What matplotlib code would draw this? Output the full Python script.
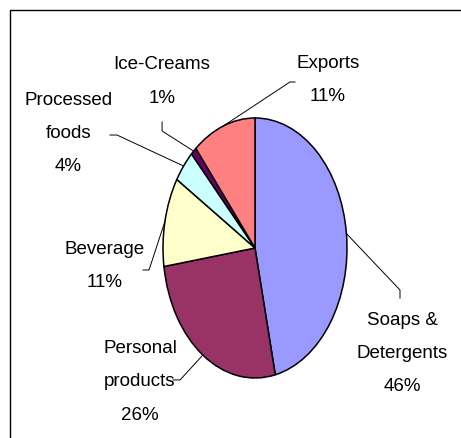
import matplotlib
matplotlib.use("Agg")
import matplotlib.pyplot as plt
from matplotlib.patches import Rectangle
import numpy as np

# Data
categories = ["Soaps &\nDetergents", "Personal\nproducts", "Beverage",
              "Processed\nfoods", "Ice-Creams", "Exports"]
values = [46, 26, 11, 4, 1, 11]
colors = ["#9999FF", "#993366", "#FFFFCC", "#CCFFFF", "#660066", "#FF8080"]

# Layout (data coords of the unit pie; pie is drawn as an ellipse)
label_pos = [(1.60, -0.81), (-1.25, -1.03), (-1.63, -0.14),
             (-2.03, 0.88), (-1.01, 1.28), (0.79, 1.29)]
leader_start = [(1.576, -0.385), (-0.891, -1.015), (-1.217, -0.169),
                (-1.576, 0.869), (-1.01, 0.97), (0.435, 1.277)]
leader_elbow = [(1.576, -0.323), (-0.815, -1.015), (-1.152, -0.169),
                (-1.50, 0.869), (-1.01, 0.90), (0.38, 1.277)]

plt.rcParams['font.family'] = ['Liberation Sans', 'DejaVu Sans']

W, H = 461, 438
fig = plt.figure(figsize=(W / 100, H / 100), dpi=100)
fig.patch.set_facecolor("white")

# Outer border
fig.patches.append(Rectangle((10 / W, -0.1), 1.2, 0.1 + 1 - 10.5 / H,
                             transform=fig.transFigure, fill=False,
                             edgecolor="black", linewidth=1.0))

cx0, cx1 = 163, 347
cy0, cy1 = 118, 378
ax = fig.add_axes([cx0 / W, 1 - cy1 / H, (cx1 - cx0) / W, (cy1 - cy0) / H])
wedges, _ = ax.pie(values, colors=colors, startangle=90, counterclock=False,
                   wedgeprops=dict(edgecolor="black", linewidth=1.1))
ax.set_aspect('auto')
ax.set_xlim(-1, 1)
ax.set_ylim(-1, 1)
ax.axis('off')

total = sum(values)
for w, cat, v, lp, ls, le in zip(wedges, categories, values, label_pos,
                                 leader_start, leader_elbow):
    mid = np.deg2rad((w.theta1 + w.theta2) / 2)
    anchor = (np.cos(mid), np.sin(mid))
    pct = round(100 * v / total)
    ax.text(lp[0], lp[1], f"{cat}\n{pct}%", ha="center", va="center",
            fontsize=13.5, linespacing=2.25, color="black", clip_on=False)
    ax.plot([ls[0], le[0], anchor[0]], [ls[1], le[1], anchor[1]],
            color="black", linewidth=0.7, clip_on=False)

fig.savefig("out.png", dpi=100, facecolor="white")
